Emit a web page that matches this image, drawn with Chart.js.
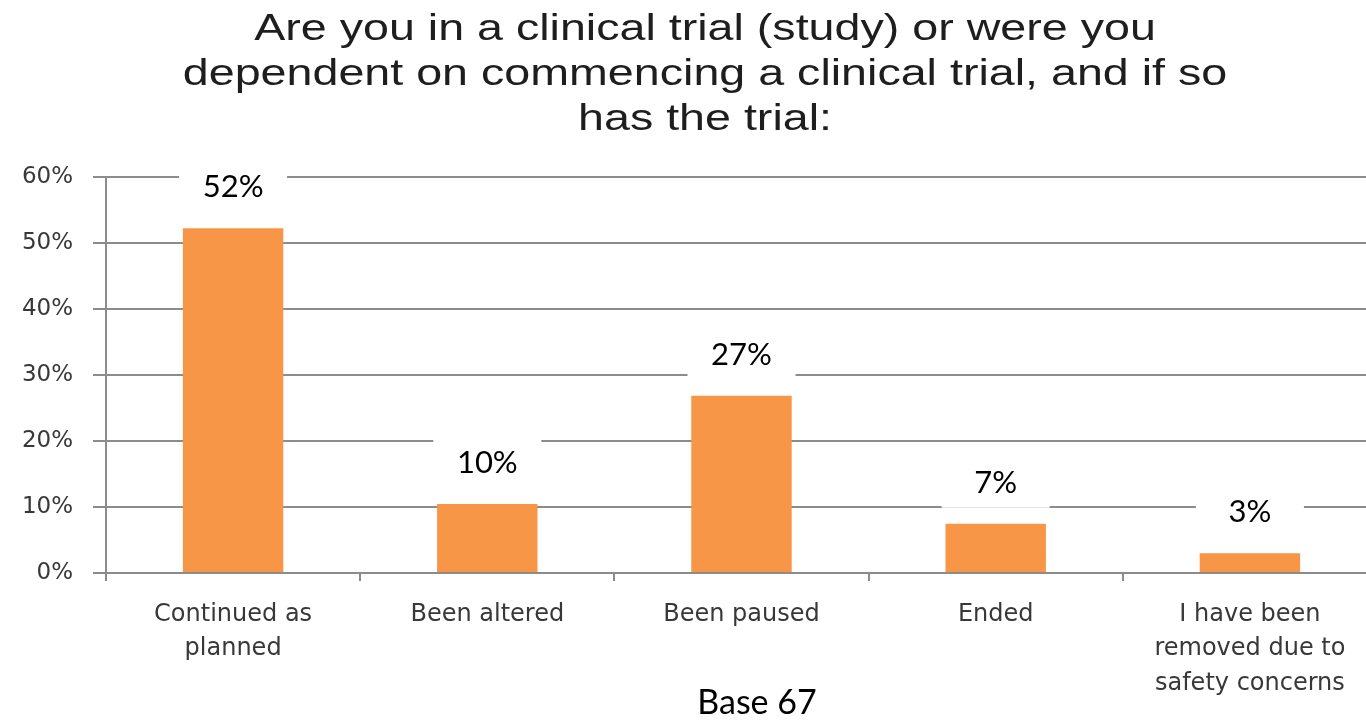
<!DOCTYPE html>
<html>
<head>
<meta charset="utf-8">
<script src="https://cdn.jsdelivr.net/npm/chart.js@4.4.1/dist/chart.umd.min.js"></script>
<style>
    html, body { margin: 0; padding: 0; background: #fff; overflow: hidden; }
    /* the plot in the source runs slightly past the right edge of the picture */
    #wrap { width: 1366px; height: 720px; position: relative; overflow: hidden; }
</style>
</head>
<body>
<div id="wrap"><canvas id="trialChart" width="1377" height="720"></canvas></div>
<script>
// chart data
const categories = [
    ['Continued as', 'planned'],
    ['Been altered'],
    ['Been paused'],
    ['Ended'],
    ['I have been', 'removed due to', 'safety concerns']
];
const shares = [52.24, 10.45, 26.87, 7.46, 2.99];   // % of base 67
const yTicks = [0, 10, 20, 30, 40, 50, 60];
const titleLines = [
    'Are you in a clinical trial (study) or were you',
    'dependent on commencing a clinical trial, and if so',
    'has the trial:'
];
const baseNote = 'Base 67';

// white-boxed value labels above each bar
const valueLabels = {
    id: 'valueLabels',
    afterDatasetsDraw(chart) {
        const ctx = chart.ctx;
        const meta = chart.getDatasetMeta(0);
        ctx.save();
        ctx.font = '31px Lato, "Liberation Sans", sans-serif';
        ctx.textAlign = 'center';
        ctx.textBaseline = 'middle';
        meta.data.forEach((bar, i) => {
            const txt = Math.round(shares[i]) + '%';
            const cy = bar.y - 41;
            ctx.fillStyle = '#ffffff';
            ctx.fillRect(bar.x - 54, cy - 25, 108, 50);
            ctx.fillStyle = '#000000';
            ctx.fillText(txt, bar.x, cy);
        });
        ctx.restore();
    }
};

// title (the source title is a little stretched sideways) and base note
const headerFooter = {
    id: 'headerFooter',
    afterDraw(chart) {
        const ctx = chart.ctx;
        ctx.save();
        ctx.fillStyle = '#1e1e1e';
        ctx.textAlign = 'center';
        ctx.textBaseline = 'alphabetic';
        ctx.font = '37px "Liberation Sans", Arial, sans-serif';
        titleLines.forEach((line, i) => {
            ctx.save();
            ctx.translate(705, 40 + i * 45);
            ctx.scale(1.26, 1);
            ctx.fillText(line, 0, 0);
            ctx.restore();
        });
        ctx.fillStyle = '#000000';
        ctx.textBaseline = 'middle';
        ctx.font = '34px Lato, "Liberation Sans", sans-serif';
        ctx.fillText(baseNote, 757, 703);
        ctx.restore();
    }
};

new Chart(document.getElementById('trialChart').getContext('2d'), {
    type: 'bar',
    data: {
        labels: categories,
        datasets: [{
            data: shares,
            backgroundColor: '#F79646',
            borderWidth: 0,
            barPercentage: 0.395,
            categoryPercentage: 1
        }]
    },
    options: {
        responsive: false,
        animation: false,
        layout: { padding: { top: 177, right: 0, left: 0, bottom: 0 } },
        plugins: {
            legend: { display: false },
            title: { display: false },
            tooltip: { enabled: false }
        },
        scales: {
            x: {
                grid: {
                    drawOnChartArea: false,
                    color: '#8c8c8c',
                    lineWidth: 2,
                    tickLength: 8
                },
                border: { color: '#8c8c8c', width: 2 },
                ticks: {
                    color: '#383838',
                    padding: 16,
                    maxRotation: 0,
                    autoSkip: false,
                    font: { family: '"DejaVu Sans", Verdana, sans-serif', size: 24, lineHeight: 1.45 }
                },
                afterFit(scale) { scale.height = 147; }
            },
            y: {
                min: 0,
                max: 60,
                afterBuildTicks(scale) { scale.ticks = yTicks.map(v => ({ value: v })); },
                grid: {
                    color: '#8c8c8c',
                    lineWidth: 2,
                    tickLength: 13
                },
                border: { color: '#8c8c8c', width: 2 },
                ticks: {
                    color: '#383838',
                    padding: 20,
                    font: { family: '"DejaVu Sans", Verdana, sans-serif', size: 23 },
                    callback: v => v + '%'
                },
                afterFit(scale) { scale.width = 106; }
            }
        }
    },
    plugins: [valueLabels, headerFooter]
});
</script>
</body>
</html>
